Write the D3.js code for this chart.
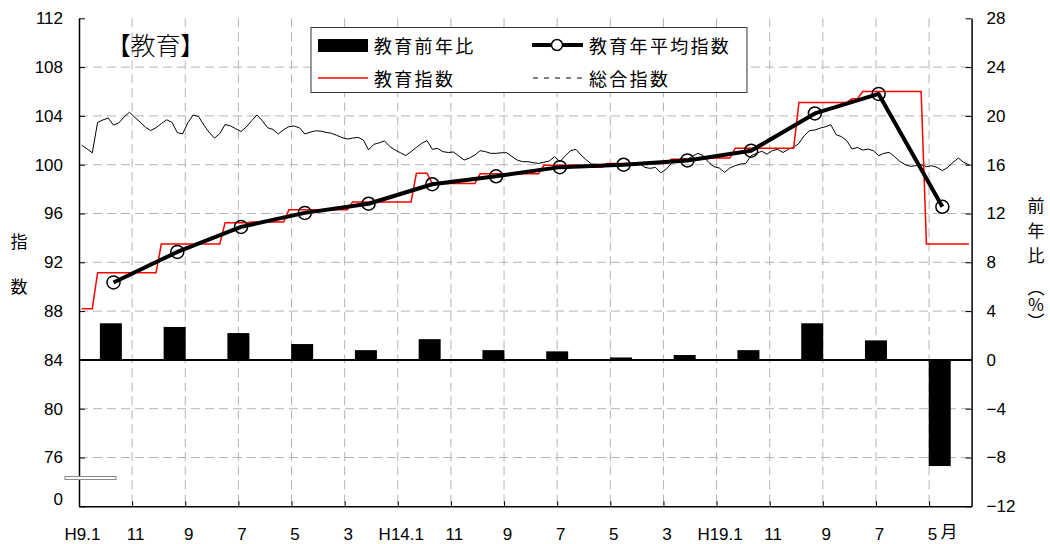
<!DOCTYPE html>
<html><head><meta charset="utf-8">
<script src="https://cdn.jsdelivr.net/npm/d3@7"></script>
<style>
body{margin:0;background:#fff;}
svg text{font-family:"Noto Sans CJK JP","Noto Sans",sans-serif;fill:#000;}
svg .tick text{font-family:"Liberation Sans",Arial,sans-serif;}
</style></head><body><div id="chart"></div>
<script>
// 年次データ (H9〜H22)
const years = ['H9','H10','H11','H12','H13','H14','H15','H16','H17','H18','H19','H20','H21','H22'];
const avgIndex = [90.35, 92.85, 94.9, 96.05, 96.8, 98.4, 99.05, 99.8, 100.0, 100.35, 101.15, 104.2, 105.8, 96.55];
const yoyPct = [3.0, 2.7, 2.2, 1.3, 0.8, 1.7, 0.8, 0.7, 0.2, 0.4, 0.8, 3.0, 1.6, -8.7];

// 月次データ H9.1〜H22.12
const eduIndex = [
  88.2,88.2,88.2,91.15,91.15,91.15,91.15,91.15,91.15,91.15,91.15,91.15,
  91.15,91.15,91.15,93.5,93.5,93.5,93.5,93.5,93.5,93.5,93.5,93.5,
  93.5,93.5,93.5,95.25,95.25,95.25,95.25,95.25,95.3,95.3,95.3,95.3,
  95.3,95.3,95.3,96.3,96.3,96.3,96.3,96.3,96.3,96.3,96.3,96.3,
  96.3,96.3,96.3,96.95,96.95,96.95,96.95,96.95,96.95,96.95,96.95,96.95,
  96.95,96.95,96.95,99.3,99.3,99.3,98.45,98.45,98.45,98.45,98.45,98.45,
  98.45,98.45,98.45,99.25,99.25,99.25,99.25,99.25,99.25,99.25,99.25,99.25,
  99.25,99.25,99.25,99.95,99.95,99.95,99.95,99.95,99.95,99.95,99.95,99.85,
  99.8,99.8,99.8,100.1,100.1,100.1,100.1,100.1,100.1,100.1,100.1,100.1,
  100.1,100.1,100.1,100.45,100.45,100.45,100.45,100.45,100.45,100.5,100.5,100.55,
  100.55,100.55,100.55,101.35,101.35,101.35,101.35,101.35,101.35,101.35,101.35,101.35,
  101.35,101.35,101.35,105.1,105.1,105.1,105.1,105.1,105.1,105.1,105.1,105.1,
  105.1,105.4,105.4,106.0,106.0,106.0,106.0,106.0,106.0,106.0,106.0,106.0,
  106.0,106.0,106.0,93.5,93.5,93.5,93.5,93.5,93.5,93.5,93.5,93.5
];
const totalIndex = [
  101.6,101.3,100.97,103.47,103.67,103.82,103.24,103.43,103.92,104.3,103.89,103.5,
  103.07,102.8,103.03,103.37,103.68,103.47,102.63,102.52,103.45,104.08,103.95,103.25,
  102.65,102.18,102.55,103.3,103.18,102.95,102.72,103.1,103.6,104.08,103.6,103.03,
  102.89,102.52,102.86,103.12,103.17,103.02,102.52,102.66,102.78,102.75,102.65,102.58,
  102.41,102.22,102.1,102.18,102.24,102.03,101.22,101.67,101.79,101.95,101.49,101.2,
  100.98,100.75,101.07,101.42,101.75,101.97,101.26,101.34,101.07,101.0,101.04,100.71,
  100.38,100.55,100.79,101.15,101.07,100.93,100.93,100.98,100.98,100.66,100.38,100.25,
  100.25,100.16,100.1,100.2,100.3,100.66,100.25,100.71,101.15,101.26,100.79,100.38,
  100.05,100.03,99.97,100.1,100.03,99.84,99.97,100.1,100.05,100.1,99.78,99.7,
  99.78,99.34,99.62,100.1,100.35,100.55,100.45,100.7,100.93,100.74,100.19,99.84,
  99.73,99.37,99.73,99.92,100.05,100.1,100.74,100.93,101.1,100.87,101.15,101.26,
  101.0,101.26,101.42,101.75,102.38,102.79,102.84,103.0,103.11,103.28,102.46,102.3,
  101.97,101.28,101.42,101.2,101.28,101.15,100.74,100.93,101.01,100.66,100.27,100.0,
  99.86,99.92,100.0,99.84,99.92,99.78,99.51,99.78,100.19,100.55,100.19,100.0
];

const xTickMonths = [0,10,20,30,40,50,60,70,80,90,100,110,120,130,140,150,160];
const xTickLabels = ['H9.1','11','9','7','5','3','H14.1','11','9','7','5','3','H19.1','11','9','7','5'];
const leftTicks = [72,76,80,84,88,92,96,100,104,108,112];
const rightTicks = [-12,-8,-4,0,4,8,12,16,20,24,28];

const W = 1050, H = 544;
const L = 79, R = 971.6, T = 18.3, B = 506.3;

const svg = d3.select('#chart').append('svg')
  .attr('width', W).attr('height', H);

// スケール
const xm = d3.scaleLinear().domain([0, 168]).range([L, R]);
const yL = d3.scaleLinear().domain([72, 112]).range([B, T]);
const yR = d3.scaleLinear().domain([-12, 28]).range([B, T]);
const xb = d3.scaleBand().domain(years).range([L, R])
  .paddingInner(0.655).paddingOuter(0.3275);

// グリッド
const grid = svg.append('g').attr('stroke', '#b4b4b4').attr('stroke-width', 1)
  .attr('stroke-dasharray', '9,5');
grid.selectAll('line.h').data(leftTicks.filter(d => d > 72 && d < 112))
  .enter().append('line').attr('class', 'h')
  .attr('x1', L).attr('x2', R)
  .attr('y1', d => yL(d)).attr('y2', d => yL(d));
grid.selectAll('line.v').data(xTickMonths.slice(1))
  .enter().append('line').attr('class', 'v')
  .attr('x1', d => xm(d)).attr('x2', d => xm(d))
  .attr('y1', T).attr('y2', B);

// 前年比の棒
svg.append('g').selectAll('rect').data(years)
  .enter().append('rect')
  .attr('x', d => xb(d))
  .attr('width', xb.bandwidth())
  .attr('y', (d, i) => yR(Math.max(0, yoyPct[i])))
  .attr('height', (d, i) => Math.abs(yR(yoyPct[i]) - yR(0)))
  .attr('fill', '#000');

svg.append('line')
  .attr('x1', L).attr('x2', R)
  .attr('y1', yR(0)).attr('y2', yR(0))
  .attr('stroke', '#000').attr('stroke-width', 2);

// 総合指数
const lineM = d3.line().x((d, i) => xm(i + 0.5)).y(d => yL(d));
svg.append('path').datum(totalIndex)
  .attr('d', lineM).attr('fill', 'none')
  .attr('stroke', '#000').attr('stroke-width', 1);

// 教育指数
svg.append('path').datum(eduIndex)
  .attr('d', lineM).attr('fill', 'none')
  .attr('stroke', '#ff0000').attr('stroke-width', 1.5);

// 教育年平均指数
const lineY = d3.line().x((d, i) => xm(i * 12 + 6.5)).y(d => yL(d));
svg.append('path').datum(avgIndex)
  .attr('d', lineY).attr('fill', 'none')
  .attr('stroke', '#000').attr('stroke-width', 4)
  .attr('stroke-linejoin', 'round');
svg.append('g').selectAll('circle').data(avgIndex)
  .enter().append('circle')
  .attr('cx', (d, i) => xm(i * 12 + 6.5))
  .attr('cy', d => yL(d))
  .attr('r', 6.5)
  .attr('fill', 'none').attr('stroke', '#000').attr('stroke-width', 1.5);

// 軸
const axL = svg.append('g').attr('transform', `translate(${L},0)`)
  .call(d3.axisLeft(yL).tickValues(leftTicks)
    .tickFormat(d => d === 72 ? '0' : d)
    .tickSizeInner(-6).tickSizeOuter(0).tickPadding(16));
axL.selectAll('text').style('font-size', '17px')
  .filter(d => d === 72).attr('dy', '-0.1em');

const axR = svg.append('g').attr('transform', `translate(${R},0)`)
  .call(d3.axisRight(yR).tickValues(rightTicks)
    .tickFormat(d => d < 0 ? '\u2212' + (-d) : d)
    .tickSizeInner(-6).tickSizeOuter(0).tickPadding(15));
axR.selectAll('text').style('font-size', '17px');

const axB = svg.append('g').attr('transform', `translate(0,${B})`)
  .call(d3.axisBottom(xm).tickValues(xTickMonths)
    .tickFormat((d, i) => xTickLabels[i])
    .tickSizeInner(-5).tickSizeOuter(0).tickPadding(22));
axB.selectAll('text').style('font-size', '17px')
  .attr('x', 3).attr('dy', '0.68em');

svg.selectAll('.domain').attr('stroke', '#000').attr('stroke-width', 1.5);
svg.selectAll('.tick line').attr('stroke', '#000');

// 軸の省略記号
svg.append('rect')
  .attr('x', 65).attr('y', 476.5).attr('width', 51).attr('height', 3)
  .attr('fill', '#fff').attr('stroke', '#888').attr('stroke-width', 1);

// 軸タイトル
svg.append('text').attr('x', 19).attr('y', 240).attr('text-anchor', 'middle')
  .attr('dominant-baseline', 'central').style('font-size', '17px').text('指');
svg.append('text').attr('x', 19).attr('y', 285).attr('text-anchor', 'middle')
  .attr('dominant-baseline', 'central').style('font-size', '17px').text('数');

svg.append('text').attr('x', 1036).attr('y', 197)
  .style('writing-mode', 'vertical-rl').style('font-size', '17px')
  .style('letter-spacing', '8px')
  .text('前年比');
svg.append('text').attr('x', 1036).attr('y', 279)
  .style('writing-mode', 'vertical-rl')
  .style('font-size', '17px')
  .text('（％）');

svg.append('text').attr('x', 949).attr('y', 530).attr('text-anchor', 'middle')
  .attr('dominant-baseline', 'central').style('font-size', '17px').text('月');

// タイトル
svg.append('text').attr('x', 118).attr('y', 44)
  .attr('dominant-baseline', 'central')
  .style('font-size', '25px').style('font-weight', '300')
  .style('font-feature-settings', '"palt"')
  .text('【教育】');

// 凡例
const lg = svg.append('g');
lg.append('rect').attr('x', 311).attr('y', 27.5).attr('width', 436).attr('height', 65)
  .attr('fill', '#fff').attr('stroke', '#333').attr('stroke-width', 1);
lg.append('rect').attr('x', 318).attr('y', 39).attr('width', 50).attr('height', 13).attr('fill', '#000');
lg.append('line').attr('x1', 318).attr('x2', 368).attr('y1', 78).attr('y2', 78)
  .attr('stroke', '#ff0000').attr('stroke-width', 1.5);
lg.append('line').attr('x1', 532).attr('x2', 583).attr('y1', 45).attr('y2', 45)
  .attr('stroke', '#000').attr('stroke-width', 4);
lg.append('circle').attr('cx', 557).attr('cy', 45).attr('r', 5.5)
  .attr('fill', '#fff').attr('stroke', '#000').attr('stroke-width', 1.5);
lg.append('line').attr('x1', 533).attr('x2', 583).attr('y1', 78).attr('y2', 78)
  .attr('stroke', '#000').attr('stroke-width', 1).attr('stroke-dasharray', '5,6');
const lgText = [['教育前年比', 374, 45], ['教育年平均指数', 589, 45], ['教育指数', 374, 78], ['総合指数', 589, 78]];
lg.selectAll('text').data(lgText).enter().append('text')
  .attr('x', d => d[1]).attr('y', d => d[2])
  .attr('dominant-baseline', 'central')
  .style('font-size', '18px').style('letter-spacing', '2.3px')
  .text(d => d[0]);
</script>
</body></html>
